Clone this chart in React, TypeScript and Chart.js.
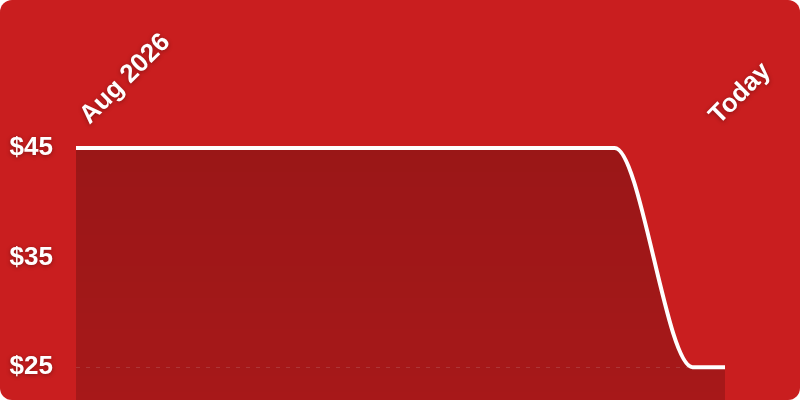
import React, { useRef, useEffect } from 'react';
import { Chart, registerables } from 'chart.js';

Chart.register(...registerables);

// days since the first point
const dayOffsets = [0, 20, 41, 62, 83, 95, 100];
const prices = [45, 45, 45, 45, 45, 25, 25];
const xTickValues = [3, 100];
const xTickLabels = ['Aug 2026', 'Today'];
const yTickValues = [25, 35, 45];

const CARD_RED = '#C91E1F';
const FONT = 'Arial, "Liberation Sans", sans-serif';

const textShadow = {
    id: 'textShadow',
    beforeDraw: (chart: Chart) => {
        const ctx = chart.ctx;
        ctx.save();
        ctx.shadowColor = 'rgba(0,0,0,0.35)';
        ctx.shadowBlur = 4;
        ctx.shadowOffsetY = 1;
    },
    beforeDatasetsDraw: (chart: Chart) => {
        chart.ctx.restore();
    },
};

export default function App() {
    const canvasRef = useRef<HTMLCanvasElement>(null);

    useEffect(() => {
        document.body.style.margin = '0';
        let chart: Chart | undefined;
        if (canvasRef.current) {
            chart = new Chart(canvasRef.current, {
                type: 'line',
                data: {
                    datasets: [
                        {
                            data: dayOffsets.map((d, i) => ({ x: d, y: prices[i] })),
                            borderColor: '#ffffff',
                            borderWidth: 4,
                            pointRadius: 0,
                            clip: 6,
                            cubicInterpolationMode: 'monotone',
                            fill: 'start',
                            backgroundColor: (c: any) => {
                                const area = c.chart.chartArea;
                                if (!area) return 'rgba(0,0,0,0.2)';
                                const g = c.chart.ctx.createLinearGradient(0, area.top, 0, area.bottom);
                                g.addColorStop(0, 'rgba(0,0,0,0.23)');
                                g.addColorStop(1, 'rgba(0,0,0,0.17)');
                                return g;
                            },
                        },
                    ],
                },
                options: {
                    animation: false,
                    responsive: false,
                    layout: { padding: { left: 0, right: 75, top: 0, bottom: 0 } },
                    plugins: { legend: { display: false }, tooltip: { enabled: false } },
                    scales: {
                        x: {
                            type: 'linear',
                            position: 'top',
                            min: 0,
                            max: 100,
                            grid: { display: false, drawTicks: false },
                            border: { display: false },
                            afterBuildTicks: (s: any) => {
                                s.ticks = xTickValues.map((v) => ({ value: v }));
                            },
                            afterFit: (s: any) => {
                                s.height = 148;
                                s.paddingLeft = 0;
                                s.paddingRight = 0;
                            },
                            ticks: {
                                color: '#ffffff',
                                font: { family: FONT, size: 26, weight: 'bold' },
                                minRotation: 45,
                                maxRotation: 45,
                                padding: 17,
                                labelOffset: 11,
                                autoSkip: false,
                                callback: (v: any) => xTickLabels[xTickValues.indexOf(Number(v))] ?? '',
                            },
                        },
                        y: {
                            min: 22,
                            max: 45,
                            grid: {
                                drawTicks: false,
                                color: (c: any) => (c.tick && c.tick.value === 25 ? 'rgba(255,255,255,0.16)' : 'rgba(0,0,0,0)'),
                                lineWidth: 1,
                            },
                            border: { display: false, dash: [4, 6] },
                            afterBuildTicks: (s: any) => {
                                s.ticks = yTickValues.map((v) => ({ value: v }));
                            },
                            afterFit: (s: any) => {
                                s.width = 76;
                                s.paddingTop = 0;
                                s.paddingBottom = 0;
                            },
                            ticks: {
                                color: '#ffffff',
                                font: { family: FONT, size: 26, weight: 'bold' },
                                padding: 23,
                                callback: (v: any) => '$' + v,
                            },
                        },
                    },
                },
                plugins: [textShadow],
            });
        }
        return () => {
            if (chart) chart.destroy();
        };
    }, []);

    return (
        <div style={{ width: 800, height: 400, background: CARD_RED, borderRadius: 12, overflow: 'hidden' }}>
            <canvas ref={canvasRef} width={800} height={400} style={{ display: 'block' }}></canvas>
        </div>
    );
}
